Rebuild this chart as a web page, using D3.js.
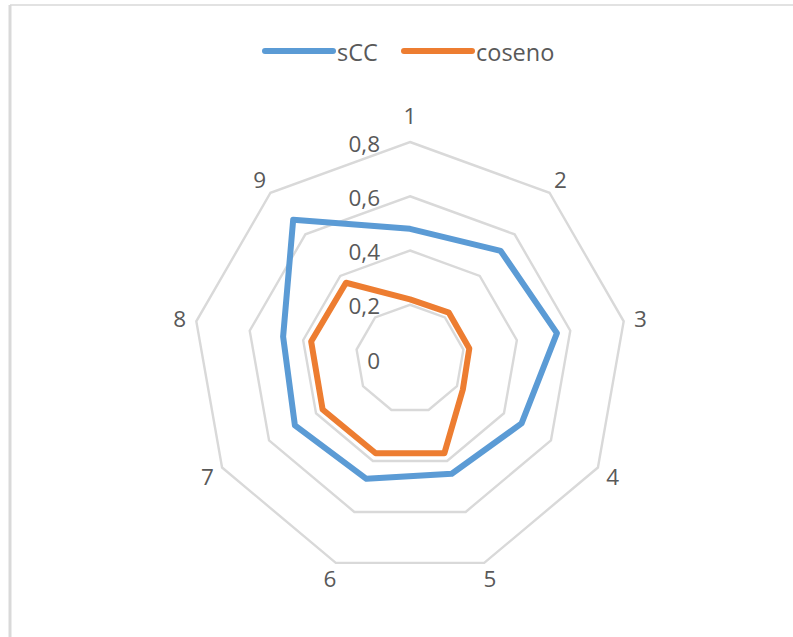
<!DOCTYPE html>
<html>
<head>
<meta charset="utf-8">
<script src="https://cdn.jsdelivr.net/npm/d3@7"></script>
<style>
  body { margin: 0; background: #fff; }
  text { font-family: "Open Sans", sans-serif; fill: #595959; }
</style>
</head>
<body>
<script>
// categories and series values
const categories = ["1", "2", "3", "4", "5", "6", "7", "8", "9"];
const sCC = [0.48, 0.52, 0.55, 0.475, 0.45, 0.47, 0.49, 0.475, 0.67];
const coseno = [0.22, 0.223, 0.222, 0.225, 0.37, 0.37, 0.372, 0.37, 0.367];
const ticks = [0, 0.2, 0.4, 0.6, 0.8];
const seriesNames = ["sCC", "coseno"];

const w = 793, h = 637;
const cx = 410, cy = 359, R = 217;
const colors = { sCC: "#5B9BD5", coseno: "#ED7D31" };

const svg = d3.select("body").append("svg")
    .attr("width", w)
    .attr("height", h);

// chart frame (only top and left edges visible)
svg.append("line").attr("x1", 10).attr("y1", 5).attr("x2", w).attr("y2", 5)
    .attr("stroke", "#d9d9d9").attr("stroke-width", 1.5);
svg.append("line").attr("x1", 10).attr("y1", 5).attr("x2", 10).attr("y2", h)
    .attr("stroke", "#d9d9d9").attr("stroke-width", 3);

const rScale = d3.scaleLinear().domain([0, 0.8]).range([0, R]);
const angle = d3.scaleLinear().domain([0, categories.length]).range([0, 2 * Math.PI]);

const g = svg.append("g").attr("transform", "translate(" + cx + "," + cy + ")");

const radial = d3.lineRadial()
    .angle((d, i) => angle(i))
    .radius(d => rScale(d))
    .curve(d3.curveLinearClosed);

// grid rings
g.selectAll(".ring")
    .data(ticks.filter(t => t > 0))
    .enter()
    .append("path")
    .attr("class", "ring")
    .attr("d", t => radial(categories.map(() => t)))
    .attr("fill", "none")
    .attr("stroke", "#d9d9d9")
    .attr("stroke-width", 2.4);

// ring value labels
g.selectAll(".tick")
    .data(ticks)
    .enter()
    .append("text")
    .attr("x", -30)
    .attr("y", t => -rScale(t) + 1)
    .attr("text-anchor", "end")
    .attr("dominant-baseline", "central")
    .style("font-size", "22.5px")
    .text(t => d3.format(".1f")(t).replace(".", ",").replace(/^0,0$/, "0"));

// series
[sCC, coseno].forEach((vals, k) => {
    g.append("path")
        .datum(vals)
        .attr("d", radial)
        .attr("fill", "none")
        .attr("stroke", colors[seriesNames[k]])
        .attr("stroke-width", 6)
        .attr("stroke-linejoin", "round");
});

// category labels
g.selectAll(".cat")
    .data(categories)
    .enter()
    .append("text")
    .attr("x", (d, i) => Math.sin(angle(i)) * (R + 17))
    .attr("y", (d, i) => -Math.cos(angle(i)) * (R + (i === 0 ? 27 : 17)))
    .attr("text-anchor", "middle")
    .attr("dominant-baseline", "central")
    .style("font-size", "22.5px")
    .text(d => d);

// legend
const legend = svg.append("g");
const legendX = [265, 404];
seriesNames.forEach((name, k) => {
    legend.append("line")
        .attr("x1", legendX[k]).attr("x2", legendX[k] + 68)
        .attr("y1", 51).attr("y2", 51)
        .attr("stroke", colors[name])
        .attr("stroke-width", 6)
        .attr("stroke-linecap", "round");
    legend.append("text")
        .attr("x", legendX[k] + 72)
        .attr("y", 52)
        .attr("dominant-baseline", "central")
        .style("font-size", "23.5px")
        .text(name);
});
</script>
</body>
</html>
